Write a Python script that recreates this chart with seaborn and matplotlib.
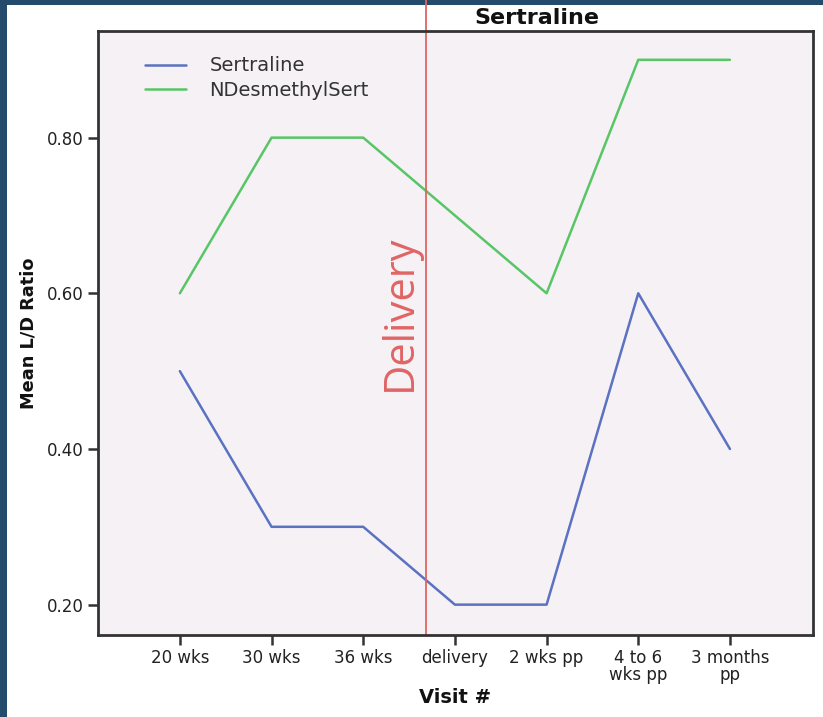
import pandas as pd
import matplotlib.pyplot as plt
import matplotlib.patches as mpatches
import seaborn as sns

# data
visits = ["20 wks", "30 wks", "36 wks", "delivery", "2 wks pp", "4 to 6\nwks pp", "3 months\npp"]
sertraline = [0.50, 0.30, 0.30, 0.20, 0.20, 0.60, 0.40]
ndesmethyl = [0.60, 0.80, 0.80, 0.70, 0.60, 0.90, 0.90]
series_names = ["Sertraline", "NDesmethylSert"]
yticks = [0.20, 0.40, 0.60, 0.80]
delivery_pos = 2.69

sns.set_theme(style="white")
plt.rcParams["font.family"] = ["DejaVu Sans"]

df = pd.DataFrame({
    "visit": visits * 2,
    "ratio": sertraline + ndesmethyl,
    "series": [series_names[0]] * len(visits) + [series_names[1]] * len(visits),
})

fig = plt.figure(figsize=(8.23, 7.17), dpi=100)
fig.patch.set_facecolor("#244b6b")
# white slide area (dark strip left and top)
fig.patches.append(mpatches.Rectangle((7 / 823, 0), 1, 1 - 5 / 717,
                                      transform=fig.transFigure,
                                      facecolor="white", edgecolor="none", zorder=-5))

ax = fig.add_axes([98 / 823, 82 / 717, 715 / 823, 604 / 717])
ax.set_facecolor("#f6f1f5")

sns.lineplot(data=df, x="visit", y="ratio", hue="series", sort=False,
             palette={"Sertraline": "#5b72c2", "NDesmethylSert": "#58c666"},
             linewidth=1.8, ax=ax)

ax.set_xlim(-0.893, 6.906)
ax.set_ylim(0.161, 0.937)
ax.set_yticks(yticks)
ax.set_yticklabels([f"{v:.2f}" for v in yticks])

for s in ax.spines.values():
    s.set_color("#333333")
    s.set_linewidth(2)
ax.tick_params(axis="both", direction="out", length=7, width=1.8, color="#333333",
               labelsize=12, labelcolor="#222222", pad=3, bottom=True, left=True)
for lab in ax.get_xticklabels():
    lab.set_linespacing(0.95)

ax.set_xlabel("Visit #", fontsize=14, fontweight="bold", color="#111111", labelpad=3)
ax.set_ylabel("Mean L/D Ratio", fontsize=12.8, fontweight="bold", color="#111111", labelpad=7)

leg = ax.legend(loc="upper left", bbox_to_anchor=(0.066, 0.958), frameon=False,
                fontsize=14, handlelength=2.1, handletextpad=1.2, labelspacing=0.3,
                borderpad=0, borderaxespad=0)
for t in leg.get_texts():
    t.set_color("#333333")
for l in leg.get_lines():
    l.set_linewidth(1.8)

# delivery marker
ax.axvline(delivery_pos, ymin=0, ymax=1.06, color="#e06464", linewidth=1.3, clip_on=False)
ax.text(delivery_pos - 0.29, 0.575, "Delivery", rotation=90, ha="center", va="center",
        fontsize=30, color="#e06464", family=["Open Sans", "DejaVu Sans"])

fig.text(537 / 823, 1 - 18 / 717, "Sertraline", ha="center", va="center",
         fontsize=16, fontweight="bold", color="#111111")

fig.savefig("out.png", dpi=100, facecolor=fig.get_facecolor())
